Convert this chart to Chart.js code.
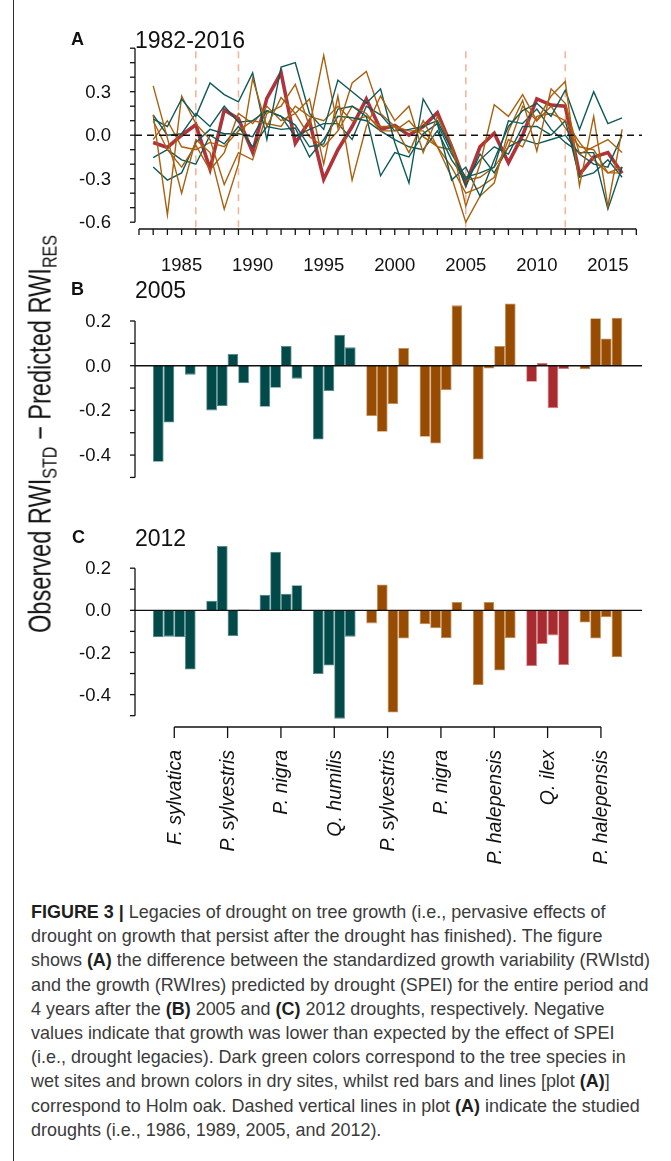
<!DOCTYPE html>
<html lang="en">
<head>
<meta charset="utf-8">
<title>Figure 3 – drought legacies on tree growth</title>
<script src="https://cdn.jsdelivr.net/npm/chart.js@4.4.1/dist/chart.umd.min.js"></script>
<style>
  html, body { margin:0; padding:0; background:#fff; }
  body { position:relative; width:671px; height:1161px; overflow:hidden;
         font-family:"Liberation Sans", Arial, Helvetica, sans-serif; color:#111; }
  .rule { position:absolute; left:13px; top:0; width:1px; height:1161px; background:#2e2e2e; }
  canvas { position:absolute; left:0; }
  .tag { position:absolute; font-weight:bold; font-size:18px; line-height:18px; white-space:nowrap; }
  .ttl { position:absolute; font-size:23px; line-height:23px; white-space:nowrap; }
  .ytitle { position:absolute; left:45px; top:434px; font-size:31px; line-height:34px; white-space:nowrap; }
  .ytitle .sub { font-size:0.68em; vertical-align:-0.28em; }
  .cap { position:absolute; left:31px; top:900px; font-size:19px; line-height:24.2px; color:#3b3b3b;
         white-space:nowrap; transform-origin:0 0; }
  .cap b { color:#1e1e1e; }
</style>
</head>
<body>
<div class="rule"></div>

<canvas id="panelA" width="671" height="290" style="top:0px"></canvas>
<canvas id="panelB" width="671" height="230" style="top:280px"></canvas>
<canvas id="panelC" width="671" height="360" style="top:520px"></canvas>

<div class="tag" style="left:71px;top:30px">A</div>
<div class="ttl" style="left:135px;top:29px">1982-2016</div>
<div class="tag" style="left:71px;top:280px">B</div>
<div class="ttl" style="left:135px;top:279px">2005</div>
<div class="tag" style="left:72px;top:528px">C</div>
<div class="ttl" style="left:135px;top:527px">2012</div>

<div class="ytitle" id="ytitle">Observed RWI<span class="sub">STD</span> − Predicted RWI<span class="sub">RES</span></div>

<div class="cap" id="caption">
<div><b>FIGURE 3 |</b> Legacies of drought on tree growth (i.e., pervasive effects of</div>
<div>drought on growth that persist after the drought has finished). The figure</div>
<div id="capWide">shows <b>(A)</b> the difference between the standardized growth variability (RWIstd)</div>
<div>and the growth (RWIres) predicted by drought (SPEI) for the entire period and</div>
<div>4 years after the <b>(B)</b> 2005 and <b>(C)</b> 2012 droughts, respectively. Negative</div>
<div>values indicate that growth was lower than expected by the effect of SPEI</div>
<div>(i.e., drought legacies). Dark green colors correspond to the tree species in</div>
<div>wet sites and brown colors in dry sites, whilst red bars and lines [plot <b>(A)</b>]</div>
<div>correspond to Holm oak. Dashed vertical lines in plot <b>(A)</b> indicate the studied</div>
<div>droughts (i.e., 1986, 1989, 2005, and 2012).</div>
</div>

<script>
// ---------- Panel A: yearly residual growth, 1983–2016 ----------
const years = [1983,1984,1985,1986,1987,1988,1989,1990,1991,1992,1993,1994,1995,1996,1997,1998,1999,
               2000,2001,2002,2003,2004,2005,2006,2007,2008,2009,2010,2011,2012,2013,2014,2015,2016];

// wet sites (dark green)
const wetFagusSylvatica = [0.11,0.06,0.25,0.13,0.36,0.28,0.23,0.43,-0.03,0.47,0.50,0.15,0.04,0.38,0.30,0.22,0.32,
                           -0.05,-0.33,0.25,0.08,-0.31,-0.22,-0.42,-0.17,0.06,0.17,0.22,0.13,0.31,0.04,0.30,0.08,0.12];
const wetPinusSylvestris = [0.14,0.00,0.01,0.15,0.06,0.20,0.09,0.10,0.17,0.13,0.07,-0.08,-0.06,0.18,0.20,0.13,-0.28,
                            -0.12,-0.15,0.01,0.08,-0.13,-0.29,-0.26,-0.22,0.10,0.08,0.18,0.04,-0.05,-0.12,-0.12,-0.51,-0.22];
const wetPinusNigra = [-0.155,-0.10,-0.17,-0.20,0.00,-0.06,0.06,-0.08,0.06,0.04,0.05,-0.15,-0.03,0.13,0.12,0.10,0.03,
                       -0.03,-0.08,-0.10,0.03,-0.17,-0.31,-0.17,-0.08,-0.13,0.06,0.06,0.00,0.10,-0.29,-0.26,-0.17,-0.29];
const wetQuercusHumilis = [-0.22,-0.31,-0.26,-0.05,0.04,0.01,0.01,-0.01,0.17,0.13,-0.01,0.04,0.08,0.08,-0.03,0.20,0.14,
                           0.03,0.04,0.06,0.10,-0.10,-0.35,-0.13,-0.26,-0.08,-0.03,-0.06,-0.03,0.00,-0.13,-0.20,-0.22,0.00];

// dry sites (brown)
const dryPinusSylvestris = [0.34,-0.02,-0.40,-0.03,-0.12,-0.51,-0.20,0.39,0.06,0.26,0.15,0.25,-0.20,0.27,-0.31,0.06,0.27,
                            0.10,0.20,-0.12,0.13,-0.06,-0.49,-0.20,0.21,0.13,0.28,0.10,0.27,0.37,-0.35,0.13,-0.49,0.04];
const dryPinusNigra = [0.14,-0.55,0.27,0.08,-0.03,-0.34,-0.12,-0.17,0.15,0.20,0.35,0.06,0.55,0.05,0.36,0.44,0.15,
                       0.06,-0.12,0.10,-0.08,-0.29,-0.60,-0.42,-0.33,0.03,0.24,-0.11,0.32,0.22,-0.13,-0.08,-0.03,-0.12];
const dryPinusHalepensisA = [0.10,-0.10,-0.22,-0.07,-0.24,-0.12,0.15,0.08,0.20,0.10,0.15,-0.01,-0.08,0.03,0.20,0.15,0.03,
                             0.03,0.10,-0.01,-0.08,-0.22,-0.40,-0.36,-0.29,-0.03,-0.08,0.13,0.15,0.10,-0.05,-0.17,-0.26,-0.26];
const dryPinusHalepensisB = [-0.03,0.10,-0.08,-0.10,-0.05,-0.08,0.03,0.10,0.08,0.06,0.20,0.13,0.10,0.20,0.10,0.13,0.06,
                             0.06,0.03,0.03,-0.08,-0.10,-0.31,-0.29,-0.22,-0.08,0.20,0.10,0.20,0.05,-0.08,-0.10,-0.26,-0.22];

// Holm oak (red)
const quercusIlex = [-0.05,-0.084,0.00,0.072,-0.233,0.174,0.114,-0.118,0.254,0.431,-0.056,0.098,-0.304,-0.10,0.06,0.249,0.04,
                     0.067,0.00,0.06,0.155,-0.08,-0.337,-0.08,0.013,-0.19,0.00,0.25,0.208,0.20,-0.27,-0.15,-0.12,-0.263];

const droughtYears = [1986, 1989, 2005, 2012];
const yearTicks = [1982,1983,1984,1985,1986,1987,1988,1989,1990,1991,1992,1993,1994,1995,1996,1997,1998,1999,
                   2000,2001,2002,2003,2004,2005,2006,2007,2008,2009,2010,2011,2012,2013,2014,2015,2016,2017];
const yearLabels = [1985, 1990, 1995, 2000, 2005, 2010, 2015];
const residTicksA = [-0.6,-0.5,-0.4,-0.3,-0.2,-0.1,0,0.1,0.2,0.3,0.4,0.5,0.6];
const residLabelsA = [-0.6,-0.3,0,0.3];

// ---------- Panels B and C: four years after each drought ----------
const species = ['F. sylvatica','P. sylvestris','P. nigra','Q. humilis',
                 'P. sylvestris','P. nigra','P. halepensis','Q. ilex','P. halepensis'];
const siteType = ['wet','wet','wet','wet','dry','dry','dry','oak','dry'];

const after2005Year1 = [-0.43,-0.20,-0.184,-0.33,-0.225,-0.318,-0.42,-0.072,-0.016];
const after2005Year2 = [-0.254,-0.18,-0.099,-0.113,-0.296,-0.348,-0.013,0.012,0.212];
const after2005Year3 = [0.003,0.052,0.088,0.139,-0.172,-0.11,0.088,-0.19,0.122];
const after2005Year4 = [-0.04,-0.079,-0.058,0.082,0.079,0.27,0.278,-0.015,0.215];

const after2012Year1 = [-0.128,0.046,0.074,-0.302,-0.062,-0.066,-0.354,-0.264,-0.058];
const after2012Year2 = [-0.125,0.305,0.278,-0.262,0.123,-0.085,0.040,-0.160,-0.134];
const after2012Year3 = [-0.128,-0.122,0.079,-0.514,-0.485,-0.133,-0.286,-0.119,-0.033];
const after2012Year4 = [-0.281,0.004,0.119,-0.125,-0.134,0.040,-0.133,-0.259,-0.223];

const residTicksBC = [-0.5,-0.4,-0.3,-0.2,-0.1,0,0.1,0.2];
const residLabelsBC = [-0.4,-0.2,0,0.2];

// ---------- styling ----------
const lineColour = { wet:'#0e5a58', dry:'#a9600f', oak:'#b0323a' };
const barColour  = { wet:'#02494a', dry:'#974c02', oak:'#a82b30' };
const barEdge    = { wet:'#4f8584', dry:'#c08a55', oak:'#cf7a7c' };
const TICK_FONT = '18.5px "Liberation Sans", Arial, sans-serif';
const SPECIES_FAMILY = '"Liberation Sans", Arial, sans-serif';
const SPECIES_SPAN = 95;      // drawn length of the first species name, px
const INK = '#111';
const AXIS_X = 135;           // position of the left axis line
const ZERO_RIGHT = 642;       // right end of the reference line at zero
const LABEL_RIGHT = 111;      // right edge of the left tick labels

// condensed caption and axis title, fitted to their column
(function fitText() {
  const cap = document.getElementById('caption');
  const wide = document.getElementById('capWide');
  const sx = 619 / wide.getBoundingClientRect().width;
  cap.style.transform = 'scaleX(' + sx.toFixed(4) + ')';
  const yt = document.getElementById('ytitle');
  const ty = 398 / yt.offsetWidth;
  yt.style.transform = 'translate(-50%,-50%) rotate(-90deg) scaleX(' + ty.toFixed(4) + ')';
})();

Chart.defaults.animation = false;
Chart.defaults.devicePixelRatio = 1;

function strokeLine(ctx, x1, y1, x2, y2) {
  ctx.beginPath(); ctx.moveTo(x1, y1); ctx.lineTo(x2, y2); ctx.stroke();
}

// Left axis in the style of base R graphics: the line spans only the tick range
const leftAxis = {
  id: 'leftAxis',
  afterDatasetsDraw(chart, args, o) {
    const ctx = chart.ctx, y = chart.scales.y;
    ctx.save();
    ctx.strokeStyle = INK; ctx.fillStyle = INK; ctx.lineWidth = 1.3;
    const top = y.getPixelForValue(o.ticks[o.ticks.length - 1]);
    const bot = y.getPixelForValue(o.ticks[0]);
    strokeLine(ctx, AXIS_X, top, AXIS_X, bot);
    o.ticks.forEach(v => { const p = y.getPixelForValue(v); strokeLine(ctx, AXIS_X - 5, p, AXIS_X, p); });
    ctx.font = TICK_FONT; ctx.textAlign = 'right'; ctx.textBaseline = 'middle';
    o.labels.forEach(v => ctx.fillText(v.toFixed(1), LABEL_RIGHT, y.getPixelForValue(v) + 1));
    // reference line at zero
    const z = y.getPixelForValue(0);
    ctx.lineWidth = o.zeroDash ? 1.5 : 1.4;
    ctx.setLineDash(o.zeroDash || []);
    strokeLine(ctx, AXIS_X, z, ZERO_RIGHT, z);
    ctx.restore();
  }
};

// Drought years marked with light dashed verticals behind the series
const droughtMarks = {
  id: 'droughtMarks',
  beforeDatasetsDraw(chart) {
    const ctx = chart.ctx, x = chart.scales.x, a = chart.chartArea;
    ctx.save();
    ctx.strokeStyle = 'rgba(240,168,140,0.85)'; ctx.lineWidth = 1.6; ctx.setLineDash([7, 6]);
    droughtYears.forEach(yr => { const p = x.getPixelForValue(yr); strokeLine(ctx, p, a.top + 3, p, a.bottom); });
    ctx.restore();
  }
};

// Year axis of panel A
const yearAxis = {
  id: 'yearAxis',
  afterDatasetsDraw(chart) {
    const ctx = chart.ctx, x = chart.scales.x, a = chart.chartArea;
    ctx.save();
    ctx.strokeStyle = INK; ctx.fillStyle = INK; ctx.lineWidth = 1.3;
    const y0 = a.bottom;
    strokeLine(ctx, x.getPixelForValue(yearTicks[0]), y0, x.getPixelForValue(yearTicks[yearTicks.length - 1]), y0);
    yearTicks.forEach(yr => { const p = x.getPixelForValue(yr); strokeLine(ctx, p, y0, p, y0 + 6); });
    ctx.font = TICK_FONT; ctx.textAlign = 'center'; ctx.textBaseline = 'middle';
    yearLabels.forEach(yr => ctx.fillText(String(yr), x.getPixelForValue(yr), 266));
    ctx.restore();
  }
};

// Species axis under panel C
const speciesAxis = {
  id: 'speciesAxis',
  afterDatasetsDraw(chart, args, o) {
    if (!o.show) return;
    const ctx = chart.ctx, x = chart.scales.x, a = chart.chartArea;
    ctx.save();
    ctx.strokeStyle = INK; ctx.fillStyle = INK; ctx.lineWidth = 1.3;
    const y0 = a.bottom + 5;
    strokeLine(ctx, x.getPixelForValue(0), y0, x.getPixelForValue(species.length - 1), y0);
    ctx.font = 'italic 19px ' + SPECIES_FAMILY;
    const size = 19 * SPECIES_SPAN / ctx.measureText(species[0]).width;
    ctx.font = 'italic ' + size.toFixed(2) + 'px ' + SPECIES_FAMILY;
    ctx.textAlign = 'right'; ctx.textBaseline = 'middle';
    species.forEach((s, i) => {
      const p = x.getPixelForValue(i);
      strokeLine(ctx, p, y0, p, y0 + 11);
      ctx.save(); ctx.translate(p + 1, y0 + 23); ctx.rotate(-Math.PI / 2);
      ctx.fillText(s, 0, 0); ctx.restore();
    });
    ctx.restore();
  }
};

// ---------- Panel A ----------
function series(values, kind, width) {
  return {
    data: years.map((yr, i) => ({ x: yr, y: values[i] })),
    borderColor: lineColour[kind], borderWidth: width,
    pointRadius: 0, tension: 0, fill: false
  };
}

new Chart(document.getElementById('panelA'), {
  type: 'line',
  data: {
    datasets: [
      series(dryPinusSylvestris, 'dry', 1.4),
      series(wetFagusSylvatica, 'wet', 1.4),
      series(dryPinusNigra, 'dry', 1.4),
      series(wetPinusSylvestris, 'wet', 1.4),
      series(dryPinusHalepensisA, 'dry', 1.4),
      series(wetPinusNigra, 'wet', 1.4),
      series(dryPinusHalepensisB, 'dry', 1.4),
      series(wetQuercusHumilis, 'wet', 1.4),
      series(quercusIlex, 'oak', 3.6)
    ]
  },
  options: {
    responsive: false,
    layout: { padding: { left: 135, right: 29, top: 48.2, bottom: 61 } },
    scales: {
      x: { type: 'linear', min: 1981.72, max: 2017.4, display: false },
      y: { type: 'linear', min: -0.647, max: 0.6, display: false }
    },
    plugins: {
      legend: { display: false }, tooltip: { enabled: false },
      leftAxis: { ticks: residTicksA, labels: residLabelsA, zeroDash: [7, 5] }
    }
  },
  plugins: [droughtMarks, leftAxis, yearAxis]
});

// ---------- Panels B and C ----------
function barSet(values) {
  return {
    data: values,
    backgroundColor: c => barColour[siteType[c.dataIndex]],
    borderColor: c => barEdge[siteType[c.dataIndex]],
    borderWidth: 0.8,
    categoryPercentage: 0.8, barPercentage: 1.0
  };
}

function barPanel(id, sets, yMin, yMax, pad, withSpecies) {
  new Chart(document.getElementById(id), {
    type: 'bar',
    data: { labels: species, datasets: sets.map(barSet) },
    options: {
      responsive: false,
      layout: { padding: pad },
      scales: {
        x: { type: 'category', display: false },
        y: { type: 'linear', min: yMin, max: yMax, display: false }
      },
      plugins: {
        legend: { display: false }, tooltip: { enabled: false },
        leftAxis: { ticks: residTicksBC, labels: residLabelsBC, zeroDash: null },
        speciesAxis: { show: withSpecies }
      }
    },
    plugins: [leftAxis, speciesAxis]
  });
}

barPanel('panelB', [after2005Year1, after2005Year2, after2005Year3, after2005Year4],
         -0.52, 0.30, { left: 147.6, right: 43.4, top: 18.65, bottom: 28.1 }, false);
barPanel('panelC', [after2012Year1, after2012Year2, after2012Year3, after2012Year4],
         -0.53, 0.33, { left: 147.6, right: 43.4, top: 20.8, bottom: 158 }, true);
</script>
</body>
</html>
